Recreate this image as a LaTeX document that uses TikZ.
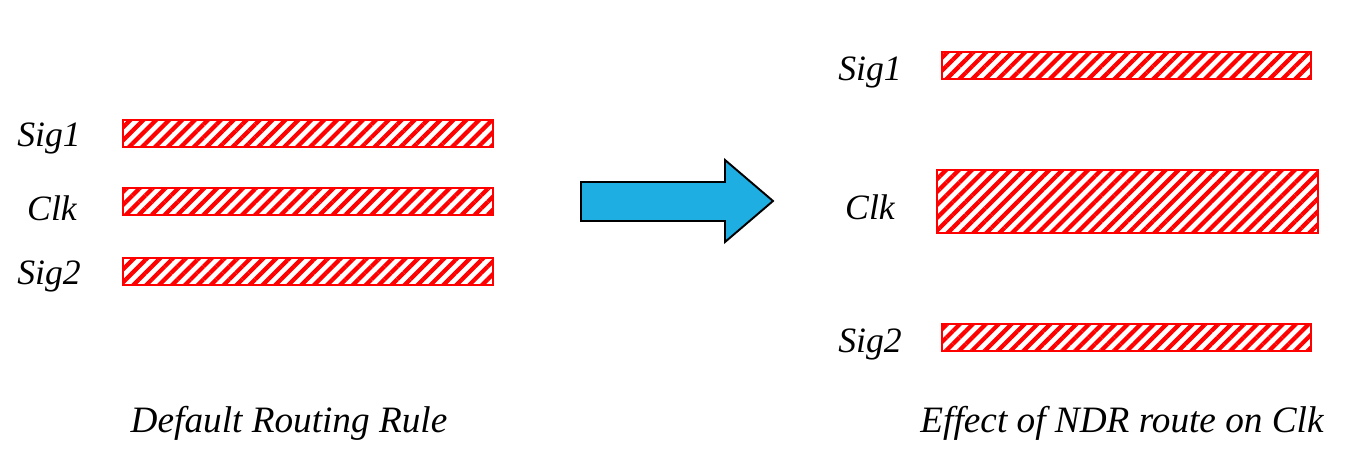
\documentclass[tikz,border=0pt]{standalone}
\usepackage{fontspec}
\setmainfont{Liberation Serif}
\usetikzlibrary{patterns.meta}
\definecolor{arrowblue}{RGB}{30,174,226}
\tikzset{
  wire/.style={draw=red,line width=1.1pt,
    pattern={Lines[angle=45,distance=5.2pt,line width=2.4pt]},pattern color=red},
  netlabel/.style={font=\itshape\fontsize{20.3}{23}\selectfont},
  caption/.style={font=\itshape\fontsize{21.2}{24}\selectfont}
}
\begin{document}
\begin{tikzpicture}[x=0.02cm,y=-0.02cm]
\useasboundingbox (0,0) rectangle (1362,470);
% default rule
\draw[wire] (123,120) rectangle (493,147);
\node[netlabel] (lsig1) at (49,138) {Sig1};
\draw[wire] (123,188) rectangle (493,215);
\node[netlabel] (lclk) at (52,208) {Clk};
\draw[wire] (123,258) rectangle (493,285);
\node[netlabel] (lsig2) at (49,276) {Sig2};
\node[caption] (lcap) at (289,423) {Default Routing Rule};
% arrow
\draw[fill=arrowblue,line width=1.1pt,line join=miter]
  (581,182) -- (725,182) -- (725,160) -- (773,201) -- (725,242) -- (725,221) -- (581,221) -- cycle;
% NDR rule
\draw[wire] (942,52) rectangle (1311,79);
\node[netlabel] (rsig1) at (870,72) {Sig1};
\draw[wire] (937,170) rectangle (1318,233);
\node[netlabel] (rclk) at (870,207) {Clk};
\draw[wire] (942,324) rectangle (1311,351);
\node[netlabel] (rsig2) at (870,344) {Sig2};
\node[caption] (rcap) at (1122,423) {Effect of NDR route on Clk};
\end{tikzpicture}
\end{document}
